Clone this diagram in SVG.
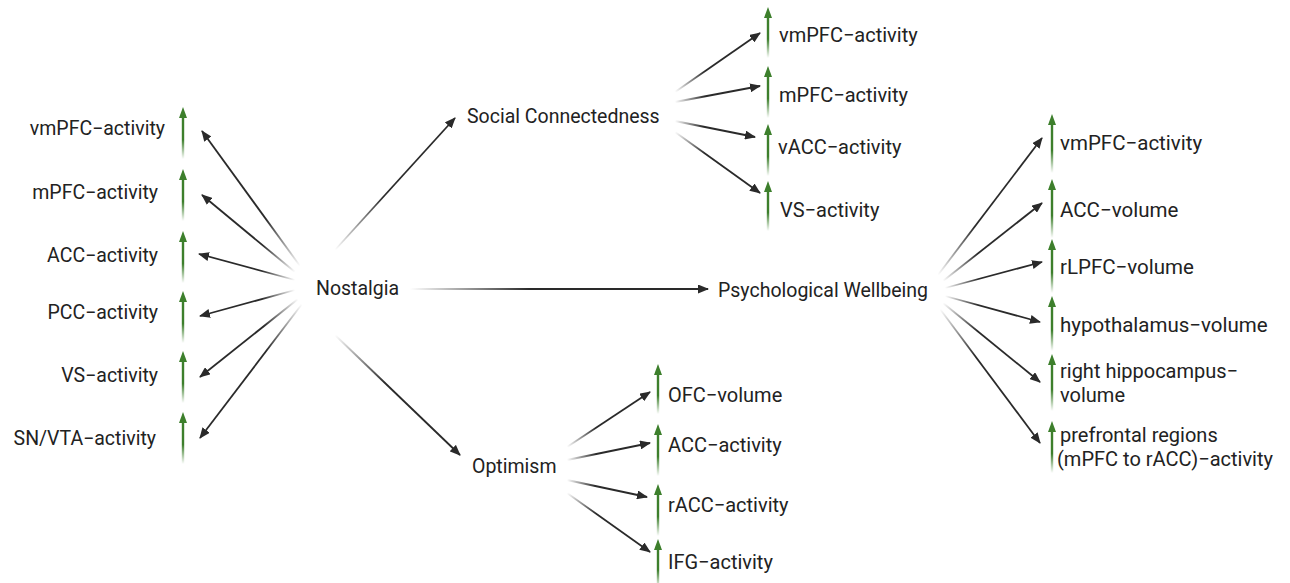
<svg xmlns="http://www.w3.org/2000/svg" width="1290" height="583" viewBox="0 0 1290 583">
<style>
text{font-family:Roboto,"Liberation Sans",sans-serif;font-size:19.5px;fill:#222}
.e{text-anchor:end}
.m{font-size:20px}
.r{font-size:20.5px}
.r2{font-size:20px}
.c{stroke-width:1.8;fill:none;marker-end:url(#ah)}
.gh{fill:#3d7f2c}
.gs{fill:url(#gfade)}
</style>
<defs>
<marker id="ah" markerUnits="userSpaceOnUse" markerWidth="11" markerHeight="9" refX="10" refY="4.5" orient="auto"><path d="M0,0 L11,4.5 L0,9 z" fill="#2a2a2a"/></marker>
<linearGradient id="gfade" x1="0" y1="0" x2="0" y2="1"><stop offset="0" stop-color="#3d7f2c"/><stop offset="0.55" stop-color="#3d7f2c"/><stop offset="1" stop-color="#3d7f2c" stop-opacity="0"/></linearGradient>
<linearGradient id="g_n1" gradientUnits="userSpaceOnUse" x1="300" y1="266" x2="202" y2="131"><stop offset="0" stop-color="#2a2a2a" stop-opacity="0"/><stop offset="0.35" stop-color="#2a2a2a"/></linearGradient>
<linearGradient id="g_n2" gradientUnits="userSpaceOnUse" x1="295" y1="272" x2="202" y2="195"><stop offset="0" stop-color="#2a2a2a" stop-opacity="0"/><stop offset="0.35" stop-color="#2a2a2a"/></linearGradient>
<linearGradient id="g_n3" gradientUnits="userSpaceOnUse" x1="295" y1="280" x2="199" y2="254"><stop offset="0" stop-color="#2a2a2a" stop-opacity="0"/><stop offset="0.35" stop-color="#2a2a2a"/></linearGradient>
<linearGradient id="g_n4" gradientUnits="userSpaceOnUse" x1="295" y1="290" x2="200" y2="316"><stop offset="0" stop-color="#2a2a2a" stop-opacity="0"/><stop offset="0.35" stop-color="#2a2a2a"/></linearGradient>
<linearGradient id="g_n5" gradientUnits="userSpaceOnUse" x1="298" y1="299" x2="200" y2="377"><stop offset="0" stop-color="#2a2a2a" stop-opacity="0"/><stop offset="0.35" stop-color="#2a2a2a"/></linearGradient>
<linearGradient id="g_n6" gradientUnits="userSpaceOnUse" x1="302" y1="304" x2="200" y2="438"><stop offset="0" stop-color="#2a2a2a" stop-opacity="0"/><stop offset="0.35" stop-color="#2a2a2a"/></linearGradient>
<linearGradient id="g_n7" gradientUnits="userSpaceOnUse" x1="335" y1="250" x2="455" y2="118"><stop offset="0" stop-color="#2a2a2a" stop-opacity="0"/><stop offset="0.4" stop-color="#2a2a2a"/></linearGradient>
<linearGradient id="g_n8" gradientUnits="userSpaceOnUse" x1="410" y1="289" x2="708" y2="289"><stop offset="0" stop-color="#2a2a2a" stop-opacity="0"/><stop offset="0.4" stop-color="#2a2a2a"/></linearGradient>
<linearGradient id="g_n9" gradientUnits="userSpaceOnUse" x1="335" y1="335" x2="460" y2="455"><stop offset="0" stop-color="#2a2a2a" stop-opacity="0"/><stop offset="0.4" stop-color="#2a2a2a"/></linearGradient>
<linearGradient id="g_s1" gradientUnits="userSpaceOnUse" x1="675" y1="92" x2="760" y2="33"><stop offset="0" stop-color="#2a2a2a" stop-opacity="0"/><stop offset="0.35" stop-color="#2a2a2a"/></linearGradient>
<linearGradient id="g_s2" gradientUnits="userSpaceOnUse" x1="675" y1="102" x2="760" y2="86"><stop offset="0" stop-color="#2a2a2a" stop-opacity="0"/><stop offset="0.35" stop-color="#2a2a2a"/></linearGradient>
<linearGradient id="g_s3" gradientUnits="userSpaceOnUse" x1="675" y1="121" x2="755" y2="137"><stop offset="0" stop-color="#2a2a2a" stop-opacity="0"/><stop offset="0.35" stop-color="#2a2a2a"/></linearGradient>
<linearGradient id="g_s4" gradientUnits="userSpaceOnUse" x1="675" y1="132" x2="760" y2="193"><stop offset="0" stop-color="#2a2a2a" stop-opacity="0"/><stop offset="0.35" stop-color="#2a2a2a"/></linearGradient>
<linearGradient id="g_p1" gradientUnits="userSpaceOnUse" x1="938" y1="275" x2="1042" y2="138"><stop offset="0" stop-color="#2a2a2a" stop-opacity="0"/><stop offset="0.35" stop-color="#2a2a2a"/></linearGradient>
<linearGradient id="g_p2" gradientUnits="userSpaceOnUse" x1="943" y1="281" x2="1042" y2="203"><stop offset="0" stop-color="#2a2a2a" stop-opacity="0"/><stop offset="0.35" stop-color="#2a2a2a"/></linearGradient>
<linearGradient id="g_p3" gradientUnits="userSpaceOnUse" x1="945" y1="288" x2="1042" y2="262"><stop offset="0" stop-color="#2a2a2a" stop-opacity="0"/><stop offset="0.35" stop-color="#2a2a2a"/></linearGradient>
<linearGradient id="g_p4" gradientUnits="userSpaceOnUse" x1="945" y1="296" x2="1040" y2="322"><stop offset="0" stop-color="#2a2a2a" stop-opacity="0"/><stop offset="0.35" stop-color="#2a2a2a"/></linearGradient>
<linearGradient id="g_p5" gradientUnits="userSpaceOnUse" x1="943" y1="303" x2="1040" y2="382"><stop offset="0" stop-color="#2a2a2a" stop-opacity="0"/><stop offset="0.35" stop-color="#2a2a2a"/></linearGradient>
<linearGradient id="g_p6" gradientUnits="userSpaceOnUse" x1="940" y1="309" x2="1040" y2="443"><stop offset="0" stop-color="#2a2a2a" stop-opacity="0"/><stop offset="0.35" stop-color="#2a2a2a"/></linearGradient>
<linearGradient id="g_o1" gradientUnits="userSpaceOnUse" x1="567" y1="447" x2="650" y2="392"><stop offset="0" stop-color="#2a2a2a" stop-opacity="0"/><stop offset="0.35" stop-color="#2a2a2a"/></linearGradient>
<linearGradient id="g_o2" gradientUnits="userSpaceOnUse" x1="567" y1="460" x2="650" y2="443"><stop offset="0" stop-color="#2a2a2a" stop-opacity="0"/><stop offset="0.35" stop-color="#2a2a2a"/></linearGradient>
<linearGradient id="g_o3" gradientUnits="userSpaceOnUse" x1="567" y1="480" x2="647" y2="497"><stop offset="0" stop-color="#2a2a2a" stop-opacity="0"/><stop offset="0.35" stop-color="#2a2a2a"/></linearGradient>
<linearGradient id="g_o4" gradientUnits="userSpaceOnUse" x1="567" y1="493" x2="650" y2="552"><stop offset="0" stop-color="#2a2a2a" stop-opacity="0"/><stop offset="0.35" stop-color="#2a2a2a"/></linearGradient>
</defs>
<rect width="1290" height="583" fill="#fff"/>

<g id="connectors">
<line class="c" stroke="url(#g_n1)" x1="300" y1="266" x2="202" y2="131"/>
<line class="c" stroke="url(#g_n2)" x1="295" y1="272" x2="202" y2="195"/>
<line class="c" stroke="url(#g_n3)" x1="295" y1="280" x2="199" y2="254"/>
<line class="c" stroke="url(#g_n4)" x1="295" y1="290" x2="200" y2="316"/>
<line class="c" stroke="url(#g_n5)" x1="298" y1="299" x2="200" y2="377"/>
<line class="c" stroke="url(#g_n6)" x1="302" y1="304" x2="200" y2="438"/>
<line class="c" stroke="url(#g_n7)" x1="335" y1="250" x2="455" y2="118"/>
<line class="c" stroke="url(#g_n8)" x1="410" y1="289" x2="708" y2="289"/>
<line class="c" stroke="url(#g_n9)" x1="335" y1="335" x2="460" y2="455"/>
<line class="c" stroke="url(#g_s1)" x1="675" y1="92" x2="760" y2="33"/>
<line class="c" stroke="url(#g_s2)" x1="675" y1="102" x2="760" y2="86"/>
<line class="c" stroke="url(#g_s3)" x1="675" y1="121" x2="755" y2="137"/>
<line class="c" stroke="url(#g_s4)" x1="675" y1="132" x2="760" y2="193"/>
<line class="c" stroke="url(#g_p1)" x1="938" y1="275" x2="1042" y2="138"/>
<line class="c" stroke="url(#g_p2)" x1="943" y1="281" x2="1042" y2="203"/>
<line class="c" stroke="url(#g_p3)" x1="945" y1="288" x2="1042" y2="262"/>
<line class="c" stroke="url(#g_p4)" x1="945" y1="296" x2="1040" y2="322"/>
<line class="c" stroke="url(#g_p5)" x1="943" y1="303" x2="1040" y2="382"/>
<line class="c" stroke="url(#g_p6)" x1="940" y1="309" x2="1040" y2="443"/>
<line class="c" stroke="url(#g_o1)" x1="567" y1="447" x2="650" y2="392"/>
<line class="c" stroke="url(#g_o2)" x1="567" y1="460" x2="650" y2="443"/>
<line class="c" stroke="url(#g_o3)" x1="567" y1="480" x2="647" y2="497"/>
<line class="c" stroke="url(#g_o4)" x1="567" y1="493" x2="650" y2="552"/>
</g>

<g id="nostalgia"><text x="316" y="295">Nostalgia</text></g>
<g id="social-connectedness"><text x="467" y="123">Social Connectedness</text></g>
<g id="psychological-wellbeing"><text x="718" y="297">Psychological Wellbeing</text></g>
<g id="optimism"><text x="472" y="473">Optimism</text></g>

<!-- Left column -->
<g id="l-vmpfc"><text class="e" x="165" y="135">vmPFC−activity</text><polygon class="gh" points="179,118 183,107 187,118"/><rect class="gs" x="181.8" y="116" width="2.4" height="43"/></g>
<g id="l-mpfc"><text class="e" x="158" y="199">mPFC−activity</text><polygon class="gh" points="179,180 183,169 187,180"/><rect class="gs" x="181.8" y="178" width="2.4" height="43"/></g>
<g id="l-acc"><text class="e" x="158" y="262">ACC−activity</text><polygon class="gh" points="179,242 183,231 187,242"/><rect class="gs" x="181.8" y="240" width="2.4" height="43"/></g>
<g id="l-pcc"><text class="e" x="158" y="319">PCC−activity</text><polygon class="gh" points="179,302 183,291 187,302"/><rect class="gs" x="181.8" y="300" width="2.4" height="43"/></g>
<g id="l-vs"><text class="e" x="158" y="382">VS−activity</text><polygon class="gh" points="179,362 183,351 187,362"/><rect class="gs" x="181.8" y="360" width="2.4" height="43"/></g>
<g id="l-snvta"><text class="e" x="156" y="445">SN/VTA−activity</text><polygon class="gh" points="179,423 183,412 187,423"/><rect class="gs" x="181.8" y="421" width="2.4" height="43"/></g>

<!-- Social Connectedness column -->
<g id="s-vmpfc"><text class="m" x="779" y="42">vmPFC−activity</text><polygon class="gh" points="764,18 768,7 772,18"/><rect class="gs" x="766.8" y="16" width="2.4" height="42"/></g>
<g id="s-mpfc"><text class="m" x="779" y="102">mPFC−activity</text><polygon class="gh" points="764,77 768,66 772,77"/><rect class="gs" x="766.8" y="75" width="2.4" height="43"/></g>
<g id="s-vacc"><text class="m" x="778" y="154">vACC−activity</text><polygon class="gh" points="764,135 768,124 772,135"/><rect class="gs" x="766.8" y="133" width="2.4" height="43"/></g>
<g id="s-vs"><text class="m" x="780" y="217">VS−activity</text><polygon class="gh" points="764,192 768,181 772,192"/><rect class="gs" x="766.8" y="190" width="2.4" height="41"/></g>

<!-- Psychological Wellbeing column -->
<g id="p-vmpfc"><text class="r" x="1060" y="150">vmPFC−activity</text><polygon class="gh" points="1048,125 1052,114 1056,125"/><rect class="gs" x="1050.8" y="123" width="2.4" height="50"/></g>
<g id="p-acc"><text class="r" x="1060" y="217">ACC−volume</text><polygon class="gh" points="1048,190 1052,179 1056,190"/><rect class="gs" x="1050.8" y="188" width="2.4" height="50"/></g>
<g id="p-rlpfc"><text class="r" x="1060" y="274">rLPFC−volume</text><polygon class="gh" points="1048,250 1052,239 1056,250"/><rect class="gs" x="1050.8" y="248" width="2.4" height="45"/></g>
<g id="p-hypo"><text class="r" x="1060" y="332">hypothalamus−volume</text><polygon class="gh" points="1048,307 1052,296 1056,307"/><rect class="gs" x="1050.8" y="305" width="2.4" height="46"/></g>
<g id="p-hippo"><text class="r2" x="1060" y="378"><tspan x="1060">right hippocampus−</tspan><tspan x="1060" dy="23.5">volume</tspan></text><polygon class="gh" points="1048,365 1052,354 1056,365"/><rect class="gs" x="1050.8" y="363" width="2.4" height="48"/></g>
<g id="p-pref"><text class="r2" x="1060" y="442"><tspan x="1060">prefrontal regions</tspan><tspan x="1057" dy="23.5">(mPFC to rACC)−activity</tspan></text><polygon class="gh" points="1048,432 1052,421 1056,432"/><rect class="gs" x="1050.8" y="430" width="2.4" height="43"/></g>

<!-- Optimism column -->
<g id="o-ofc"><text class="m" x="668" y="402">OFC−volume</text><polygon class="gh" points="654,375 658,364 662,375"/><rect class="gs" x="656.8" y="373" width="2.4" height="41"/></g>
<g id="o-acc"><text class="m" x="668" y="452">ACC−activity</text><polygon class="gh" points="654,435 658,424 662,435"/><rect class="gs" x="656.8" y="433" width="2.4" height="43"/></g>
<g id="o-racc"><text class="m" x="668" y="512">rACC−activity</text><polygon class="gh" points="654,495 658,484 662,495"/><rect class="gs" x="656.8" y="493" width="2.4" height="43"/></g>
<g id="o-ifg"><text class="m" x="668" y="569">IFG−activity</text><polygon class="gh" points="654,550 658,539 662,550"/><rect class="gs" x="656.8" y="548" width="2.4" height="40"/></g>
</svg>
